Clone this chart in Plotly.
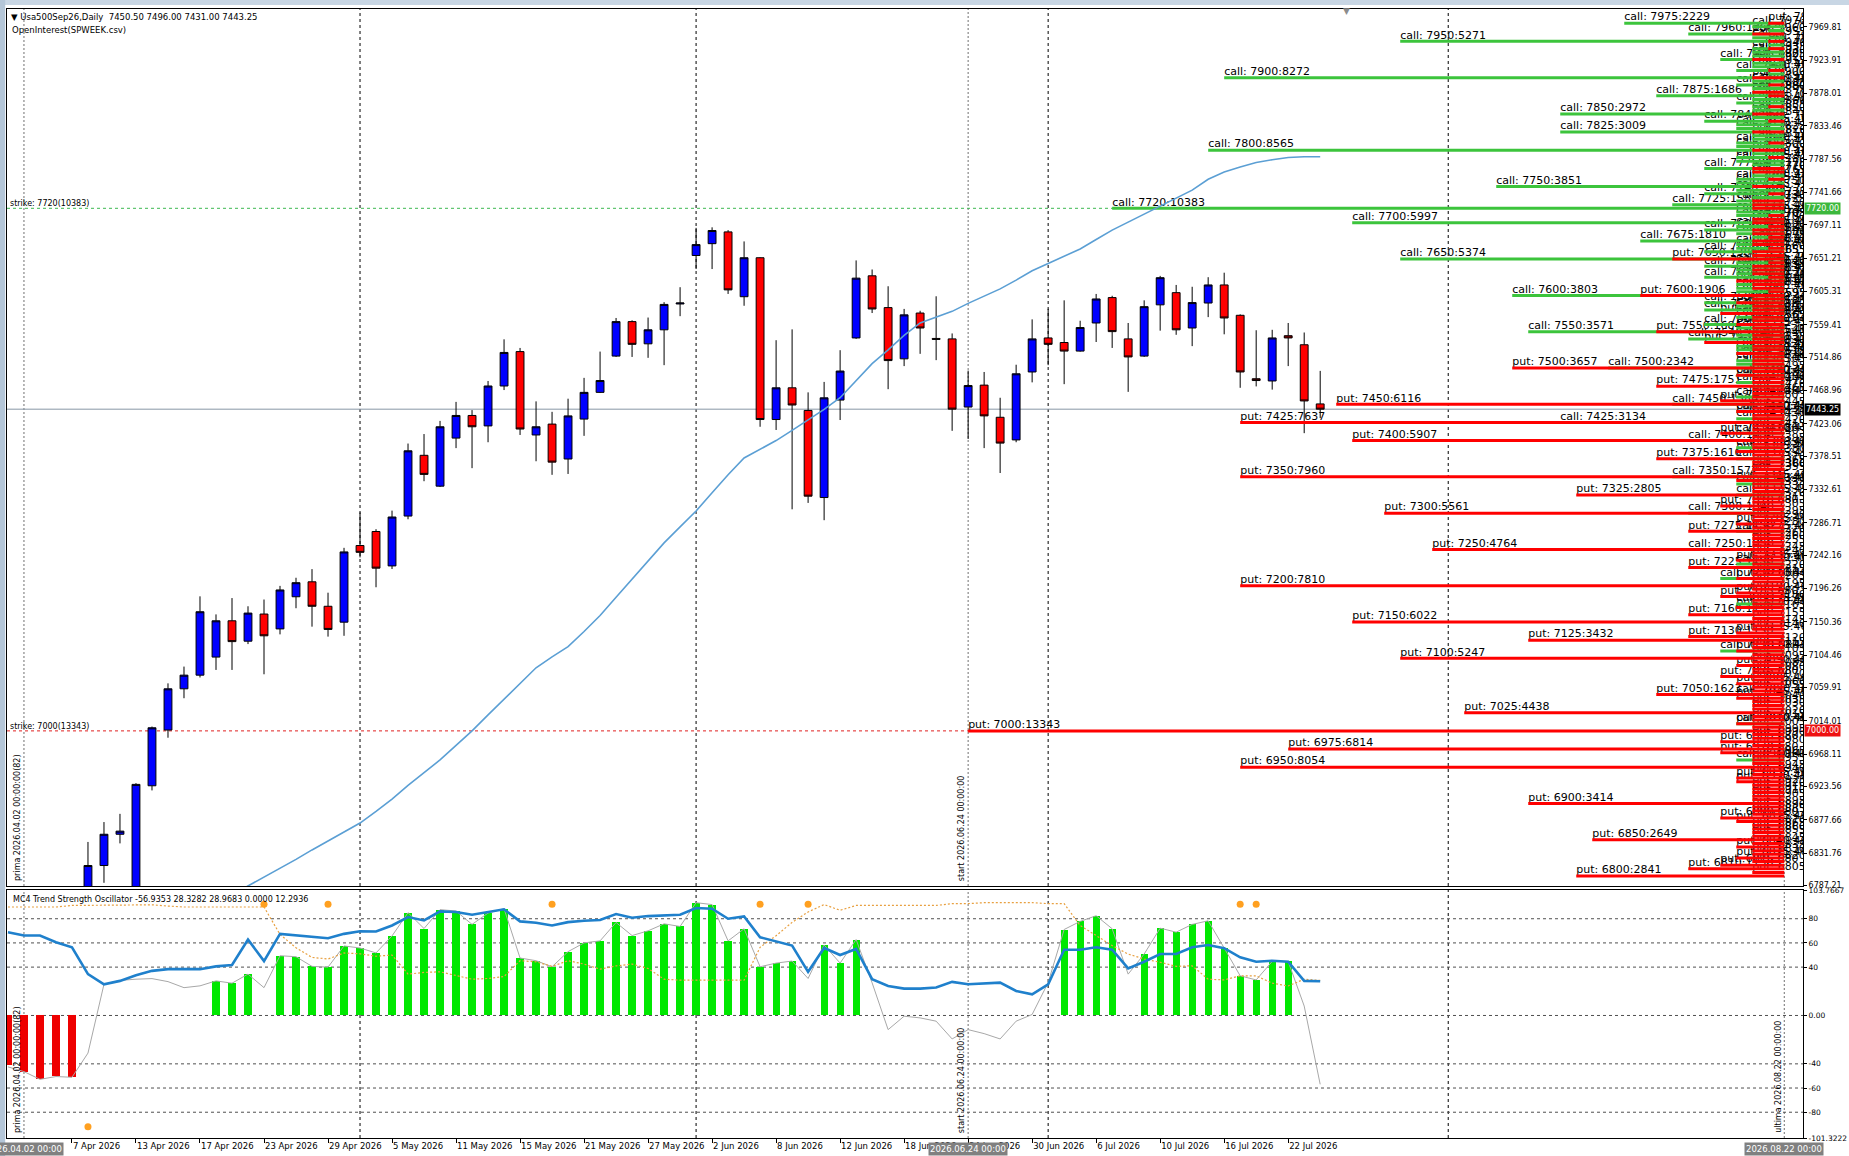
import numpy as np
import pandas as pd
import plotly.graph_objects as go

# ---- Usa500Sep26, daily bars. 2026-04-01 is the half-hidden bar on the left edge
bar_dates = pd.bdate_range("2026-04-01", "2026-07-24")
bar_x = list(range(-1, len(bar_dates) - 1))      # 0 = 2026.04.02 (prima)

opens = [6760, 6712, 6680, 6655, 6625, 6735, 6814.5, 6857.6, 6772, 6924.4,
         7001.2, 7058, 7076.8, 7101.7, 7151.7, 7123.6, 7161, 7140.5, 7184.8, 7205.4,
         7171.7, 7149.8, 7255.4, 7274.7, 7227.3, 7296, 7379.7, 7337.2, 7403.4, 7434.6,
         7420.2, 7475.2, 7522.6, 7407.7, 7422.7, 7374.6, 7429.6, 7466.4, 7516.4, 7563.9,
         7533.3, 7552.6, 7588.2, 7655, 7671.3, 7687.5, 7598.2, 7651.9, 7429, 7472.7,
         7441.5, 7321.5, 7455.8, 7541.4, 7627, 7583.2, 7512.6, 7575.7, 7540.7, 7540.1,
         7446.2, 7476.4, 7432.1, 7400.9, 7494.5, 7541.4, 7535.1, 7523.3, 7562, 7597,
         7540.1, 7516.4, 7587, 7603.8, 7555.1, 7589.5, 7614.4, 7572.6, 7485.2, 7482.1,
         7544.5, 7532, 7450.5]
highs = [6772, 6750, 6720, 6670, 6760, 6847, 6874.4, 6885.7, 6928, 7006,
         7065.5, 7088.6, 7185.4, 7160.5, 7183, 7171.7, 7181, 7199.8, 7211, 7222.9,
         7190.4, 7252.2, 7301, 7277.9, 7303.5, 7395.9, 7409, 7427.1, 7453.3, 7442,
         7482.1, 7539.5, 7527.6, 7454, 7439.6, 7457.7, 7486.4, 7522.6, 7568.9, 7565.7,
         7569.5, 7590.7, 7611.3, 7693.1, 7693.8, 7690, 7674.4, 7652.5, 7538.3, 7553.2,
         7466.4, 7480.8, 7524.5, 7648.2, 7635.7, 7612.6, 7581.4, 7578.8, 7598.8, 7547.6,
         7496.4, 7494.5, 7459, 7504.5, 7567, 7581.4, 7593.2, 7565.1, 7602, 7599.5,
         7562, 7593.2, 7626.9, 7614.4, 7611.9, 7625.1, 7631.3, 7573.9, 7552, 7552.6,
         7562, 7548.9, 7496]
lows = [6700, 6660, 6640, 6610, 6600, 6715, 6790.7, 6845, 6760, 6918,
        6990.6, 7045, 7073.6, 7084, 7084, 7119.6, 7078, 7133, 7169, 7143.6,
        7129.9, 7131, 7239, 7197.9, 7223, 7291.6, 7344, 7336, 7389.6, 7362,
        7397.7, 7469.6, 7407.7, 7371.5, 7352.8, 7354, 7406.5, 7465.5, 7515.2, 7515.2,
        7514, 7503.9, 7571.4, 7636.3, 7636.3, 7602, 7585.7, 7419, 7414.6, 7305.3,
        7314.1, 7290.3, 7428.3, 7540.1, 7575.7, 7470.8, 7502.6, 7519.5, 7510.8, 7413.4,
        7402.1, 7389.6, 7355.3, 7397.7, 7480.2, 7503.9, 7477.7, 7522.5, 7535.8, 7527.6,
        7467.1, 7515.2, 7551.4, 7545.7, 7530.1, 7570.1, 7546.4, 7472.7, 7474.6, 7470.2,
        7502.6, 7410.2, 7431]
closes = [6712, 6680, 6655, 6625, 6735, 6814.5, 6857.6, 6861.9, 6926.3, 7004.3,
          7058, 7076.8, 7164.2, 7151.7, 7123, 7162.3, 7131, 7194.2, 7204.2, 7171.7,
          7139.8, 7246.6, 7246, 7224.2, 7294.7, 7385.9, 7353.4, 7419, 7434.6, 7419,
          7475.2, 7521.4, 7415.9, 7419, 7370.3, 7434, 7466.4, 7482.7, 7563.9, 7532.6,
          7552.6, 7587.6, 7589.5, 7670, 7689.4, 7607.6, 7651.9, 7429, 7472.7, 7449,
          7323.4, 7458.9, 7495.8, 7623.8, 7581.3, 7510.2, 7573.2, 7555.1, 7539.5, 7443.3,
          7475.8, 7434, 7396.5, 7492, 7540.1, 7532.6, 7523.3, 7555.7, 7595.1, 7550.1,
          7515.2, 7584.5, 7624.4, 7552.6, 7590.1, 7614.4, 7568.9, 7494.5, 7482.7, 7541.4,
          7541.4, 7454.6, 7443.25]

# moving average (light blue), starts under the visible range
ma = [None] * 13 + [
    6762, 6774, 6786, 6798, 6811, 6823, 6836, 6848, 6861, 6873,
    6889, 6906, 6925, 6943, 6960, 6980, 7000, 7022, 7044, 7066,
    7087, 7102, 7116, 7137, 7159, 7184, 7209, 7234, 7259, 7281,
    7303, 7328, 7353, 7376, 7388, 7400, 7414, 7428, 7443, 7459,
    7482, 7506, 7525, 7545, 7562, 7570, 7578, 7589, 7599, 7609,
    7621, 7634, 7644, 7654, 7664, 7677, 7690, 7701, 7712, 7723,
    7733, 7745, 7760, 7770, 7777, 7783, 7787, 7790, 7791, 7791]

# ---- MC4 Trend Strength Oscillator buffers (same bars)
osc_hist = [-40.8, -46.4, -52.8, -49.7, -51.1, 0, 0, 0, 0, 0,
            0, 0, 0, 28.6, 26.7, 34.2, 0, 49.4, 48.6, 40.6,
            40.0, 57.5, 55.8, 51.7, 65.8, 85.0, 71.9, 87.5, 86.4, 75.3,
            84.7, 88.3, 47.5, 45.3, 40.3, 52.8, 60.0, 61.7, 76.9, 66.1,
            70.0, 75.8, 73.6, 93.3, 91.7, 61.7, 71.7, 40.3, 43.3, 45.0,
            0, 58.3, 43.3, 62.8, 0, 0, 0, 0, 0, 0,
            0, 0, 0, 0, 0, 0, 71.1, 77.8, 82.5, 71.7,
            0, 50.8, 72.2, 68.9, 75.3, 78.3, 55.8, 32.8, 29.4, 44.7,
            44.7, 0, 0]
osc_raw = [-42.5, -46.4, -52.8, -50.5, -51.1, -31.1, 25.8, 29.0, 30.0, 30.5,
           28.0, 23.0, 24.5, 28.6, 26.7, 34.2, 23.0, 49.4, 48.6, 40.6,
           40.0, 57.5, 55.8, 51.7, 65.8, 85.0, 71.9, 87.5, 86.4, 75.3,
           84.7, 88.3, 47.5, 45.3, 40.3, 52.8, 60.0, 61.7, 76.9, 66.1,
           70.0, 75.8, 73.6, 93.3, 91.7, 61.7, 71.7, 40.3, 43.3, 45.0,
           30.6, 58.3, 43.3, 62.8, 27.0, -11.7, -0.6, -2.0, -4.7, -19.4,
           -11.7, -15.0, -19.4, -4.7, 0.8, 27.2, 71.1, 77.8, 82.5, 71.7,
           34.2, 50.8, 72.2, 68.9, 75.3, 78.3, 55.8, 32.8, 29.4, 44.7,
           44.7, 7.8, -56.9353]
osc_trend = [68.9, 66.1, 66.1, 60.6, 56.4, 34.2, 25.8, 28.6, 33.3, 36.9,
             38.3, 38.3, 38.3, 40.6, 41.7, 62.8, 45.0, 67.5, 66.1, 64.7,
             63.9, 67.5, 69.7, 69.4, 74.4, 81.4, 78.6, 86.1, 85.6, 83.3,
             85.6, 87.8, 77.8, 76.7, 74.4, 77.2, 78.3, 78.9, 83.9, 80.8,
             82.2, 82.8, 83.3, 88.9, 88.3, 80.0, 81.9, 64.7, 61.1, 57.8,
             36.1, 55.8, 50.0, 55.0, 30.0, 24.4, 22.2, 22.2, 23.1, 27.8,
             25.8, 26.7, 27.2, 20.3, 17.5, 25.8, 54.4, 54.4, 56.4, 54.4,
             38.9, 44.4, 50.8, 50.8, 56.4, 58.3, 55.6, 48.1, 44.4, 45.3,
             44.4, 28.6, 28.3282]
osc_level = [89.7, 89.7, 89.7, 89.7, 91.0, 91.0, 91.0, 91.0, 91.5, 91.5,
             90.5, 89.7, 89.7, 89.7, 89.7, 89.7, 89.7, 67.0, 56.0, 48.0,
             46.7, 51.7, 51.0, 49.0, 50.0, 34.2, 35.6, 36.1, 32.8, 30.0,
             30.6, 32.2, 45.3, 44.4, 40.6, 45.3, 42.5, 38.3, 41.0, 42.5,
             38.9, 30.0, 29.2, 29.2, 29.2, 29.2, 29.2, 56.4, 66.0, 77.0,
             85.6, 91.7, 87.0, 91.0, 91.0, 91.0, 91.0, 91.0, 91.0, 92.5,
             92.5, 93.3, 93.3, 93.9, 93.3, 92.5, 92.5, 74.4, 66.0, 57.8,
             50.8, 46.7, 44.0, 40.6, 41.1, 30.0, 29.4, 32.8, 32.8, 26.7,
             24.4, 30.0, 28.9683]
osc_extra = 12.2936
signal_bars = [4, 15, 19, 33, 46, 49, 76, 77]
signal_vals = [-92, 92, 92, 92, 92, 92, 92, 92]

# ---- open interest from SPWEEK.csv (strike : contracts)
call_strikes = [
    7975, 7970, 7965, 7960, 7955, 7950, 7945, 7940, 7935, 7930,
    7925, 7920, 7915, 7910, 7905, 7900, 7895, 7890, 7885, 7880,
    7875, 7870, 7865, 7860, 7855, 7850, 7845, 7840, 7835, 7830,
    7825, 7820, 7815, 7810, 7805, 7800, 7795, 7790, 7785, 7780,
    7775, 7770, 7765, 7760, 7755, 7750, 7745, 7740, 7735, 7730,
    7725, 7720, 7715, 7710, 7705, 7700, 7695, 7690, 7685, 7680,
    7675, 7670, 7665, 7660, 7655, 7650, 7645, 7640, 7635, 7630,
    7625, 7620, 7615, 7610, 7605, 7600, 7595, 7590, 7585, 7580,
    7575, 7570, 7565, 7560, 7555, 7550, 7545, 7540, 7535, 7530,
    7525, 7520, 7515, 7510, 7505, 7500,
    7490, 7480, 7475, 7460, 7450, 7440, 7430, 7425, 7410, 7400,
    7390, 7375, 7360, 7350, 7340, 7325, 7300, 7275, 7250, 7230,
    7210, 7175, 7110, 7050, 7010, 6960]
call_oi = [
    2229, 230, 220, 1256, 240, 5271, 210, 452, 230, 450,
    680, 250, 230, 455, 220, 8272, 240, 460, 230, 450,
    1686, 240, 455, 230, 450, 2972, 240, 958, 460, 455,
    3009, 250, 450, 460, 455, 8565, 240, 460, 455, 450,
    905, 240, 450, 455, 460, 3851, 455, 910, 450, 455,
    1580, 10383, 460, 455, 450, 5997, 455, 1130, 460, 450,
    1810, 455, 460, 920, 450, 5374, 455, 1130, 460, 455,
    1130, 450, 455, 460, 455, 3803, 450, 1130, 455, 1120,
    460, 455, 450, 1130, 455, 3571, 460, 1140, 450, 455,
    460, 455, 450, 460, 455, 2342,
    455, 460, 450, 455, 1380, 455, 460, 3134, 455, 1330,
    460, 455, 450, 1577, 460, 455, 1340, 460, 1350, 460,
    680, 460, 680, 460, 460, 460]

put_strikes = [
    7975, 7960, 7950, 7940, 7925, 7910, 7900, 7890, 7880, 7875,
    7860, 7850, 7840, 7825, 7810, 7800, 7790, 7775, 7770, 7760,
    7750, 7740, 7730, 7725, 7720, 7710, 7705,
    7700, 7695, 7690, 7685, 7680, 7675, 7670, 7665, 7660, 7655,
    7650, 7645, 7640, 7635, 7630, 7625, 7620, 7615, 7610, 7605,
    7600, 7595, 7590, 7585, 7580, 7575, 7570, 7565, 7560, 7555,
    7550, 7545, 7540, 7535, 7530, 7525, 7520, 7515, 7510, 7505,
    7500, 7495, 7490, 7485, 7480, 7475, 7470, 7465, 7460, 7455,
    7450, 7445, 7440, 7435, 7430, 7425, 7420, 7415, 7410, 7405,
    7400, 7395, 7390, 7385, 7380, 7375, 7370, 7365, 7360, 7355,
    7350, 7345, 7340, 7335, 7330, 7325, 7320, 7315, 7310, 7305,
    7300, 7295, 7290, 7285, 7280, 7275, 7270, 7265, 7260, 7255,
    7250, 7245, 7240, 7235, 7230, 7225, 7220, 7215, 7210, 7205,
    7200, 7195, 7190, 7185, 7180, 7175, 7170, 7165, 7160, 7155,
    7150, 7145, 7140, 7135, 7130, 7125, 7120, 7115, 7110, 7105,
    7100, 7095, 7090, 7085, 7080, 7075, 7070, 7065, 7060, 7055,
    7050, 7045, 7040, 7035, 7030, 7025, 7020, 7015, 7010, 7005,
    7000, 6995, 6990, 6985, 6980, 6975, 6970, 6965, 6960, 6955,
    6950, 6945, 6940, 6935, 6930, 6925, 6920, 6915, 6910, 6905,
    6900, 6895, 6890, 6885, 6880, 6875, 6870, 6865, 6860, 6855,
    6850, 6845, 6840, 6835, 6830, 6825, 6820, 6815, 6810, 6805,
    6800]
put_oi = [
    220, 230, 210, 220, 230, 220, 240, 220, 230, 210,
    220, 240, 220, 230, 220, 250, 220, 230, 240, 220,
    230, 220, 240, 230, 250, 220, 230,
    260, 220, 230, 240, 220, 250, 230, 220, 240, 230,
    1380, 220, 240, 230, 250, 220, 460, 230, 240, 220,
    1906, 230, 460, 240, 230, 680, 230, 250, 460, 240,
    1684, 230, 240, 1130, 230, 240, 460, 250, 230, 240,
    3657, 240, 460, 230, 250, 1751, 250, 230, 230, 680,
    6116, 240, 460, 230, 250, 7637, 230, 240, 680, 230,
    5907, 230, 240, 460, 230, 1616, 250, 250, 230, 240,
    7960, 460, 230, 250, 240, 2805, 230, 250, 680, 230,
    5561, 230, 240, 460, 230, 1150, 250, 250, 230, 240,
    4764, 230, 230, 460, 240, 1150, 230, 250, 460, 230,
    7810, 230, 460, 680, 230, 250, 460, 250, 1150, 240,
    6022, 230, 230, 460, 1150, 3432, 230, 250, 460, 240,
    5247, 230, 460, 250, 230, 680, 240, 460, 250, 230,
    1623, 460, 240, 230, 250, 4438, 230, 240, 460, 230,
    13343, 230, 240, 680, 250, 6814, 680, 230, 240, 230,
    8054, 230, 250, 460, 460, 240, 230, 250, 230, 240,
    3414, 230, 250, 230, 680, 460, 240, 230, 230, 250,
    2649, 230, 460, 250, 230, 460, 240, 680, 1150, 250,
    2841]

price_ticks = [7969.81, 7923.91, 7878.01, 7833.46, 7787.56, 7741.66, 7697.11, 7651.21,
               7605.31, 7559.41, 7514.86, 7468.96, 7423.06, 7378.51, 7332.61, 7286.71,
               7242.16, 7196.26, 7150.36, 7104.46, 7059.91, 7014.01, 6968.11, 6923.56,
               6877.66, 6831.76, 6787.21]
osc_ticks = [103.7667, 80, 60, 40, 0, -40, -60, -80, -101.3222]
osc_tick_text = ["103.7667", "80", "60", "40", "0.00", "-40", "-60", "-80", "-101.3222"]

EXPIRY = pd.Timestamp("2026-08-22")      # ultima
START = pd.Timestamp("2026-06-24")       # start
DAYS_PER_CONTRACT = 0.00442              # how far back a line reaches per contract

FONT = "DejaVu Sans"
GREEN = "#3cc43c"
RED = "#ff0000"


def bar_pos(t):
    # past times snap to the bar they fall in, future times get one slot per calendar day
    last = bar_dates[-1]
    if t <= last:
        return int(np.searchsorted(bar_dates, t, side="right")) - 2
    return int(bar_x[-1] + (t - last) // pd.Timedelta(days=1))


x_end = bar_pos(EXPIRY)
x_start = bar_pos(START)


def oi_lines(strikes, ois, kind):
    xs, ys, lx, ly, lt = [], [], [], [], []
    for k, oi in zip(strikes, ois):
        x0 = bar_pos(EXPIRY - pd.Timedelta(days=oi * DAYS_PER_CONTRACT))
        xs += [x0, x_end, None]
        ys += [k, k, None]
        lx.append(x0)
        ly.append(k)
        lt.append(f"{kind}: {k}:{oi}")
    return xs, ys, lx, ly, lt


cx, cy, clx, cly, clt = oi_lines(call_strikes, call_oi, "call")
px_, py_, plx, ply, plt = oi_lines(put_strikes, put_oi, "put")

fig = go.Figure()

fig.add_trace(go.Candlestick(
    x=bar_x, open=opens, high=highs, low=lows, close=closes,
    increasing=dict(fillcolor="#0000ff", line=dict(color="black", width=1)),
    decreasing=dict(fillcolor="#ff0000", line=dict(color="black", width=1)),
    whiskerwidth=0, hoverinfo="skip", xaxis="x", yaxis="y"))

lbl_font = dict(family=FONT, size=11, color="black")
fig.add_trace(go.Scatter(x=clx, y=cly, text=clt, mode="text", textposition="top right",
                         textfont=lbl_font, cliponaxis=True, hoverinfo="skip"))
fig.add_trace(go.Scatter(x=plx, y=ply, text=plt, mode="text", textposition="top right",
                         textfont=lbl_font, cliponaxis=True, hoverinfo="skip"))
fig.add_trace(go.Scatter(x=cx, y=cy, mode="lines", line=dict(color=GREEN, width=3),
                         hoverinfo="skip"))
fig.add_trace(go.Scatter(x=px_, y=py_, mode="lines", line=dict(color=RED, width=3),
                         hoverinfo="skip"))
fig.add_trace(go.Scatter(x=bar_x, y=ma, mode="lines", line=dict(color="#5b9fd4", width=1.6),
                         hoverinfo="skip"))

# oscillator pane
fig.add_trace(go.Bar(x=bar_x, y=osc_hist, width=0.45,
                     marker=dict(color=["#00e800" if v > 0 else "#ee0000" for v in osc_hist],
                                 line=dict(width=0)),
                     hoverinfo="skip", xaxis="x2", yaxis="y2"))
fig.add_trace(go.Scatter(x=bar_x, y=osc_raw, mode="lines", line=dict(color="#a8a8a8", width=1),
                         hoverinfo="skip", xaxis="x2", yaxis="y2"))
fig.add_trace(go.Scatter(x=bar_x, y=osc_level, mode="lines",
                         line=dict(color="#e8a040", width=1.2, dash="2px,2px"),
                         hoverinfo="skip", xaxis="x2", yaxis="y2"))
fig.add_trace(go.Scatter(x=bar_x, y=osc_trend, mode="lines", line=dict(color="#1f80cc", width=2.6),
                         hoverinfo="skip", xaxis="x2", yaxis="y2"))
fig.add_trace(go.Scatter(x=signal_bars, y=signal_vals, mode="markers",
                         marker=dict(color="#ffa020", size=7), hoverinfo="skip",
                         xaxis="x2", yaxis="y2"))

# ---- layout geometry (px of the 1849x1156 page)
W, H = 1849, 1156
ML, MR, MTOP, MB = 7, 46, 9, 18
plot_h = H - MTOP - MB
main_dom = [(H - MB - 886) / plot_h, 1]
osc_dom = [0, (H - MB - 890) / plot_h]
xr = [-1.06, 111.17]

tick_idx = list(range(3, len(bar_dates) - 1, 4))
tick_txt = [f"{bar_dates[i + 1].day} {bar_dates[i + 1].strftime('%b %Y')}" for i in tick_idx]

axis_common = dict(showline=True, mirror=True, linecolor="black", linewidth=1,
                   showgrid=False, zeroline=False, tickcolor="black", automargin=False,
                   tickfont=dict(family=FONT, size=8, color="black"))

# separators at the first bar of each month (plus the projected 1 Aug)
month_sep = [bar_x[i] for i in range(1, len(bar_dates))
             if bar_dates[i].month != bar_dates[i - 1].month]
month_sep.append(bar_pos(pd.Timestamp("2026-08-01")))

shapes = []
for dom in ("y domain", "y2 domain"):
    for xs in month_sep:
        shapes.append(dict(type="line", xref="x", yref=dom, x0=xs, x1=xs, y0=0, y1=1,
                           line=dict(color="black", width=1, dash="3px,3px"), layer="below"))
    for xs in (0, x_start, x_end):
        shapes.append(dict(type="line", xref="x", yref=dom, x0=xs, x1=xs, y0=0, y1=1,
                           line=dict(color="#707070", width=1, dash="2px,2px"), layer="below"))
for v in (80, 60, 40, 0, -40, -60, -80):
    shapes.append(dict(type="line", xref="x domain", yref="y2", x0=0, x1=1, y0=v, y1=v,
                       line=dict(color="#505050", width=1, dash="3px,3px"), layer="below"))

top_call = call_strikes[int(np.argmax(call_oi))]
top_put = put_strikes[int(np.argmax(put_oi))]
shapes += [
    dict(type="line", xref="x domain", yref="y", x0=0, x1=1, y0=top_call, y1=top_call,
         line=dict(color="#3cb850", width=1, dash="3px,3px"), layer="below"),
    dict(type="line", xref="x domain", yref="y", x0=0, x1=1, y0=top_put, y1=top_put,
         line=dict(color="#e02020", width=1, dash="3px,3px"), layer="below"),
    dict(type="line", xref="x domain", yref="y", x0=0, x1=1, y0=closes[-1], y1=closes[-1],
         line=dict(color="#8896a5", width=1), layer="below"),
    # window frame strips
    dict(type="rect", xref="paper", yref="paper", x0=-0.01, x1=1.03, y0=1.0036, y1=1.01,
         fillcolor="#c8d6e4", line=dict(width=0), layer="below"),
    dict(type="rect", xref="paper", yref="paper", x0=-0.01, x1=-0.001, y0=-0.02, y1=1.01,
         fillcolor="#b4c6d8", line=dict(width=0), layer="below"),
]

small = dict(family=FONT, size=8, color="black")
sp = "\u00a0"
header = (f"\u25bc Usa500Sep26,Daily{sp}{sp}{opens[-1]:.2f} {highs[-1]:.2f} "
          f"{lows[-1]:.2f} {closes[-1]:.2f}")
osc_title = (f"MC4 Trend Strength Oscillator {osc_raw[-1]:.4f} {osc_trend[-1]:.4f} "
             f"{osc_level[-1]:.4f} {osc_hist[-1]:.4f} {osc_extra:.4f}")

ann = [
    dict(text=header, xref="paper", yref="paper", x=0, y=1, xanchor="left", yanchor="top",
         xshift=2, yshift=-1, showarrow=False, font=dict(family=FONT, size=8.5, color="black")),
    dict(text="OpenInterest(SPWEEK.csv)", xref="paper", yref="paper", x=0, y=1,
         xanchor="left", yanchor="top", xshift=3, yshift=-14, showarrow=False,
         font=dict(family=FONT, size=8.5, color="black")),
    dict(text=osc_title, xref="paper", yref="y2 domain", x=0, y=1, xanchor="left",
         yanchor="top", xshift=4, yshift=-3, showarrow=False, font=small),
    dict(text=f"strike: {top_call}({max(call_oi)})", xref="paper", yref="y", x=0, y=top_call,
         xanchor="left", yanchor="bottom", xshift=1, yshift=-2, showarrow=False, font=small),
    dict(text=f"strike: {top_put}({max(put_oi)})", xref="paper", yref="y", x=0, y=top_put,
         xanchor="left", yanchor="bottom", xshift=1, yshift=-2, showarrow=False, font=small),
    dict(text="\u25bc", xref="paper", yref="paper", x=0.7487, y=1, yanchor="top", yshift=5,
         showarrow=False, font=dict(family=FONT, size=9, color="#8c8c8c")),
]

n_bars = len(bar_x) - 1
prima_txt = f"prima {bar_dates[1].strftime('%Y.%m.%d')} 00:00:00({n_bars})"
start_txt = f"start {START.strftime('%Y.%m.%d')} 00:00:00"
ultima_txt = f"ultima {EXPIRY.strftime('%Y.%m.%d')} 00:00:00"
for yref in ("y domain", "y2 domain"):
    ann.append(dict(text=prima_txt, x=0, y=0, xref="x", yref=yref, textangle=-90,
                    xanchor="right", yanchor="bottom", yshift=3, showarrow=False, font=small))
    ann.append(dict(text=start_txt, x=x_start, y=0, xref="x", yref=yref, textangle=-90,
                    xanchor="right", yanchor="bottom", yshift=3, showarrow=False, font=small))
ann.append(dict(text=ultima_txt, x=x_end, y=0, xref="x", yref="y2 domain", textangle=-90,
                xanchor="right", yanchor="bottom", yshift=3, showarrow=False, font=small))

# highlighted price boxes on the right scale
for val, col in ((top_call, "#3cb83c"), (closes[-1], "#000000"), (top_put, "#ee1111")):
    ann.append(dict(text=f"{val:.2f}", xref="paper", yref="y", x=1, y=val, xanchor="left",
                    xshift=1, showarrow=False, bgcolor=col, borderpad=1,
                    font=dict(family=FONT, size=8, color="white")))
# highlighted time boxes on the time scale
for xv, t in ((0, bar_dates[1]), (x_start, START), (x_end, EXPIRY)):
    ann.append(dict(text=t.strftime("%Y.%m.%d 00:00"), xref="x", yref="paper", x=xv, y=0,
                    yanchor="top", yshift=-4, showarrow=False, bgcolor="#808080", borderpad=1,
                    font=dict(family=FONT, size=8.5, color="white")))

fig.update_layout(
    width=W, height=H, margin=dict(l=ML, r=MR, t=MTOP, b=MB, pad=0, autoexpand=False),
    paper_bgcolor="white", plot_bgcolor="white", showlegend=False, hovermode=False,
    bargap=0, shapes=shapes, annotations=ann,
    xaxis=dict(domain=[0, 1], anchor="y", range=xr, showticklabels=False, ticks="",
               matches="x2", rangeslider=dict(visible=False), **axis_common),
    xaxis2=dict(domain=[0, 1], anchor="y2", range=xr, tickvals=tick_idx, ticktext=tick_txt,
                ticks="outside", ticklen=4, tickangle=0, ticklabelposition="outside right",
                **{**axis_common, "tickfont": dict(family=FONT, size=8.5, color="black")}),
    yaxis=dict(domain=main_dom, anchor="x", side="right", range=[6786.3, 7994.6],
               tickvals=price_ticks, ticktext=[f"{v:.2f}" for v in price_ticks],
               ticks="outside", ticklen=3, **axis_common),
    yaxis2=dict(domain=osc_dom, anchor="x2", side="right", range=[-101.3222, 103.7667],
                tickvals=osc_ticks, ticktext=osc_tick_text, ticks="outside", ticklen=3,
                **{**axis_common, "tickfont": dict(family=FONT, size=7.5, color="black")}),
)

fig.write_html("out.html", config={"displayModeBar": False},
               post_script="document.body.style.margin='0';document.body.style.overflow='hidden';")
